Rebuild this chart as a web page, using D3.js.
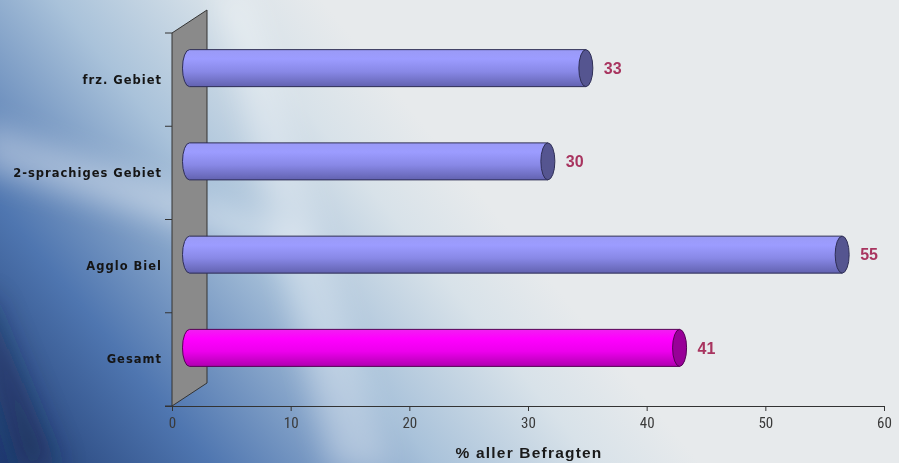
<!DOCTYPE html>
<html>
<head>
<meta charset="utf-8">
<script src="https://cdn.jsdelivr.net/npm/d3@7"></script>
<style>
  html, body { margin: 0; padding: 0; background: #e4e8eb; }
  svg { display: block; }
</style>
</head>
<body>
<svg id="chart" width="899" height="463"></svg>
<script>
// ---- data ----
const categories = ["frz. Gebiet", "2-sprachiges Gebiet", "Agglo Biel", "Gesamt"];
const values = [33.4, 30.2, 55, 41.3];
const labels = ["33", "30", "55", "41"];
const xTicks = [0, 10, 20, 30, 40, 50, 60];
const axisTitle = "% aller Befragten";

// ---- layout ----
const W = 899, H = 463;
const x0 = 172, x1 = 884, yTop = 33, yBot = 406;
const depthX = 35, depthY = 23;

const svg = d3.select("#chart");
const defs = svg.append("defs");

// background gradients
const bg = defs.append("linearGradient").attr("id", "bg")
  .attr("gradientUnits", "userSpaceOnUse")
  .attr("x1", 0).attr("y1", 463).attr("x2", 420).attr("y2", 120);
bg.append("stop").attr("offset", 0).attr("stop-color", "#203c72");
bg.append("stop").attr("offset", 0.3).attr("stop-color", "#4f76b0");
bg.append("stop").attr("offset", 0.62).attr("stop-color", "#a9c2da");
bg.append("stop").attr("offset", 0.85).attr("stop-color", "#d8e2e9");
bg.append("stop").attr("offset", 1).attr("stop-color", "#e7eaec");

const blur = defs.append("filter").attr("id", "blur").attr("x", "-50%").attr("y", "-50%").attr("width", "200%").attr("height", "200%");
blur.append("feGaussianBlur").attr("stdDeviation", 14);

const blueG = defs.append("linearGradient").attr("id", "blueBar").attr("x1", 0).attr("y1", 0).attr("x2", 0).attr("y2", 1);
blueG.append("stop").attr("offset", 0).attr("stop-color", "#9a9af6");
blueG.append("stop").attr("offset", 0.25).attr("stop-color", "#9c9cff");
blueG.append("stop").attr("offset", 0.6).attr("stop-color", "#8888e6");
blueG.append("stop").attr("offset", 1).attr("stop-color", "#6262b0");

const magG = defs.append("linearGradient").attr("id", "magBar").attr("x1", 0).attr("y1", 0).attr("x2", 0).attr("y2", 1);
magG.append("stop").attr("offset", 0).attr("stop-color", "#f020f0");
magG.append("stop").attr("offset", 0.25).attr("stop-color", "#ff00ff");
magG.append("stop").attr("offset", 0.6).attr("stop-color", "#ec00ec");
magG.append("stop").attr("offset", 1).attr("stop-color", "#b000b0");

svg.append("rect").attr("width", W).attr("height", H).attr("fill", "url(#bg)");
// light streaks
const streaks = svg.append("g").attr("filter", "url(#blur)");
streaks.append("path").attr("d", "M-20,120 L-20,170 L300,260 L310,235 Z").attr("fill", "#ffffff").attr("opacity", 0.35);
streaks.append("path").attr("d", "M215,-10 L250,-10 L390,470 L330,470 Z").attr("fill", "#ffffff").attr("opacity", 0.3);
streaks.append("path").attr("d", "M-30,300 L-10,300 L60,470 L20,470 Z").attr("fill", "#0d2048").attr("opacity", 0.5);

// ---- scales ----
const x = d3.scaleLinear().domain([0, 60]).range([x0, x1]);
const y = d3.scaleBand().domain(categories).range([yTop, yBot]);

// wall
svg.append("path")
  .attr("d", `M${x0},${yTop} L${x0 + depthX},${yTop - depthY} L${x0 + depthX},${yBot - depthY} L${x0},${yBot} Z`)
  .attr("fill", "#8a8a8a").attr("stroke", "#333").attr("stroke-width", 1);

// y ticks
svg.append("g").selectAll("line")
  .data(d3.range(categories.length + 1))
  .join("line")
  .attr("x1", x0 - 7).attr("x2", x0)
  .attr("y1", i => yTop + i * y.step()).attr("y2", i => yTop + i * y.step())
  .attr("stroke", "#333");

// category labels
svg.append("g").selectAll("text")
  .data(categories)
  .join("text")
  .attr("x", x0 - 10)
  .attr("y", d => y(d) + y.bandwidth() / 2)
  .attr("dy", "0.35em")
  .attr("text-anchor", "end")
  .attr("font-family", "'DejaVu Sans', sans-serif")
  .attr("font-weight", "bold")
  .attr("font-size", 11.5)
  .attr("letter-spacing", 1.0)
  .attr("fill", "#151515")
  .text(d => d);

// x axis
const xAxis = d3.axisBottom(x).tickValues(xTicks).tickSize(5).tickPadding(6).tickFormat(d3.format("d"));
const gx = svg.append("g").attr("transform", `translate(0,${yBot})`).call(xAxis);
gx.select(".domain").attr("stroke", "#333").attr("d", `M${x0 - 7},0.5H${x1}`);
gx.selectAll(".tick line").attr("stroke", "#333");
gx.selectAll(".tick text")
  .attr("font-family", "'Liberation Sans Narrow', 'Arial Narrow', 'Roboto Condensed', sans-serif")
  .attr("font-size", 15).attr("fill", "#3a3a3a");

svg.append("text")
  .attr("x", 529).attr("y", 458)
  .attr("text-anchor", "middle")
  .attr("font-family", "'Liberation Sans', Arial, sans-serif")
  .attr("font-weight", "bold").attr("font-size", 15.5).attr("letter-spacing", 1.2)
  .attr("fill", "#1a1a1a")
  .text(axisTitle);

// bars (cylinders)
const barH = 37, rx = 7;
const data = categories.map((c, i) => ({ c, v: values[i], l: labels[i], mag: c === "Gesamt" }));
const bars = svg.append("g").selectAll("g").data(data).join("g");

bars.append("path")
  .attr("d", d => {
    const cy = y(d.c) + y.bandwidth() / 2 - depthY / 2;
    const t = cy - barH / 2, b = cy + barH / 2;
    const xs = x(0) + depthX / 2, xe = x(d.v) + depthX / 2;
    return `M${xs},${t} L${xe},${t} L${xe},${b} L${xs},${b} A${rx},${barH / 2} 0 0 1 ${xs},${t} Z`;
  })
  .attr("fill", d => d.mag ? "url(#magBar)" : "url(#blueBar)")
  .attr("stroke", d => d.mag ? "#550055" : "#2e2e55").attr("stroke-width", 1);

bars.append("ellipse")
  .attr("cx", d => x(d.v) + depthX / 2)
  .attr("cy", d => y(d.c) + y.bandwidth() / 2 - depthY / 2)
  .attr("rx", rx).attr("ry", barH / 2)
  .attr("fill", d => d.mag ? "#980098" : "#555590")
  .attr("stroke", d => d.mag ? "#550055" : "#2e2e55").attr("stroke-width", 1);

bars.append("text")
  .attr("x", d => x(d.v) + depthX / 2 + rx + 11)
  .attr("y", d => y(d.c) + y.bandwidth() / 2 - depthY / 2)
  .attr("dy", "0.36em")
  .attr("font-family", "'Liberation Sans', Arial, sans-serif")
  .attr("font-weight", "bold").attr("font-size", 16)
  .attr("fill", "#a8345f")
  .text(d => d.l);
</script>
</body>
</html>
